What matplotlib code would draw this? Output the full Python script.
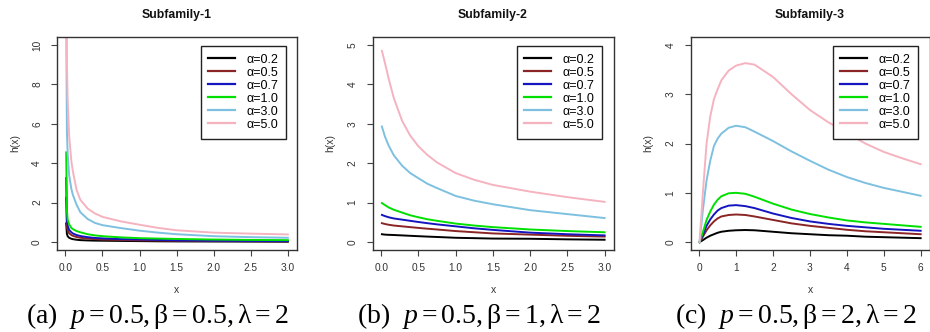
import matplotlib
matplotlib.use("Agg")
import matplotlib.pyplot as plt

plt.rcParams['font.family'] = ['Liberation Sans', 'DejaVu Sans']
plt.rcParams['mathtext.fontset'] = 'custom'
plt.rcParams['mathtext.rm'] = 'Liberation Serif'
plt.rcParams['mathtext.it'] = 'Liberation Serif:italic'
plt.rcParams['mathtext.bf'] = 'Liberation Serif:bold'

# ---------------- data ----------------
labels = ["α=0.2", "α=0.5", "α=0.7", "α=1.0", "α=3.0", "α=5.0"]
colors = ["#000000", "#8B2525", "#1515C0", "#00E000", "#7EC0E0", "#F5B3C0"]

titles = ["Subfamily-1", "Subfamily-2", "Subfamily-3"]
captions = [r"(a)  $p=0.5,\mathrm{β}=0.5,\mathrm{λ}=2$",
            r"(b)  $p=0.5,\mathrm{β}=1,\mathrm{λ}=2$",
            r"(c)  $p=0.5,\mathrm{β}=2,\mathrm{λ}=2$"]

x1 = [0.01, 0.02, 0.03, 0.05, 0.08, 0.1, 0.15, 0.2, 0.3, 0.4, 0.5, 0.75, 1.0, 1.25, 1.5, 2.0, 2.5, 3.0]
h1_a02 = [0.95, 0.42, 0.30, 0.22, 0.17, 0.15, 0.12, 0.10, 0.085, 0.075, 0.07, 0.06, 0.05, 0.04, 0.035, 0.03, 0.025, 0.02]
h1_a05 = [2.25, 0.80, 0.60, 0.45, 0.36, 0.32, 0.26, 0.22, 0.18, 0.15, 0.13, 0.11, 0.09, 0.08, 0.07, 0.06, 0.05, 0.04]
h1_a07 = [3.25, 1.10, 0.85, 0.62, 0.50, 0.44, 0.36, 0.31, 0.25, 0.21, 0.19, 0.15, 0.135, 0.11, 0.09, 0.07, 0.06, 0.05]
h1_a10 = [4.55, 1.60, 1.15, 0.90, 0.72, 0.66, 0.56, 0.50, 0.40, 0.34, 0.30, 0.24, 0.20, 0.18, 0.16, 0.13, 0.11, 0.10]
h1_a30 = [12.0, 5.6, 4.5, 3.4, 2.7, 2.4, 1.9, 1.52, 1.17, 0.97, 0.86, 0.71, 0.58, 0.48, 0.40, 0.30, 0.25, 0.22]
h1_a50 = [16.0, 9.0, 7.2, 5.4, 4.1, 3.6, 2.65, 2.15, 1.70, 1.45, 1.28, 1.05, 0.88, 0.72, 0.60, 0.48, 0.43, 0.39]

x2 = [0.01, 0.05, 0.1, 0.17, 0.28, 0.39, 0.5, 0.62, 0.75, 1.0, 1.25, 1.5, 2.0, 2.5, 3.0]
h2_a02 = [0.20, 0.19, 0.185, 0.18, 0.17, 0.16, 0.15, 0.14, 0.13, 0.11, 0.10, 0.09, 0.085, 0.07, 0.06]
h2_a05 = [0.48, 0.46, 0.44, 0.42, 0.40, 0.38, 0.36, 0.34, 0.32, 0.28, 0.25, 0.22, 0.19, 0.16, 0.14]
h2_a07 = [0.69, 0.66, 0.63, 0.60, 0.57, 0.54, 0.51, 0.48, 0.45, 0.40, 0.35, 0.31, 0.24, 0.20, 0.17]
h2_a10 = [0.99, 0.94, 0.88, 0.82, 0.75, 0.68, 0.63, 0.58, 0.54, 0.47, 0.42, 0.38, 0.32, 0.28, 0.25]
h2_a30 = [2.93, 2.68, 2.45, 2.20, 1.94, 1.75, 1.62, 1.48, 1.37, 1.17, 1.05, 0.96, 0.81, 0.71, 0.61]
h2_a50 = [4.85, 4.55, 4.15, 3.65, 3.08, 2.70, 2.43, 2.21, 2.02, 1.75, 1.58, 1.45, 1.28, 1.14, 1.02]

x3 = [0.01, 0.1, 0.2, 0.3, 0.4, 0.5, 0.6, 0.8, 1.0, 1.25, 1.5, 2.0, 2.5, 3.0, 3.5, 4.0, 4.5, 5.0, 5.5, 6.0]
h3_a02 = [0.0, 0.04, 0.09, 0.13, 0.16, 0.19, 0.21, 0.23, 0.24, 0.245, 0.24, 0.21, 0.18, 0.16, 0.14, 0.13, 0.11, 0.10, 0.09, 0.08]
h3_a05 = [0.0, 0.11, 0.24, 0.34, 0.42, 0.48, 0.52, 0.55, 0.56, 0.55, 0.52, 0.45, 0.38, 0.33, 0.29, 0.25, 0.22, 0.20, 0.18, 0.16]
h3_a07 = [0.0, 0.15, 0.33, 0.46, 0.56, 0.64, 0.69, 0.74, 0.75, 0.73, 0.69, 0.58, 0.49, 0.42, 0.37, 0.33, 0.30, 0.27, 0.25, 0.23]
h3_a10 = [0.0, 0.20, 0.45, 0.62, 0.76, 0.86, 0.93, 0.99, 1.00, 0.98, 0.92, 0.78, 0.66, 0.57, 0.50, 0.44, 0.40, 0.37, 0.34, 0.31]
h3_a30 = [0.0, 0.65, 1.25, 1.65, 1.95, 2.10, 2.20, 2.32, 2.36, 2.33, 2.24, 2.05, 1.84, 1.65, 1.47, 1.32, 1.20, 1.10, 1.02, 0.94]
h3_a50 = [0.0, 1.00, 2.00, 2.55, 2.90, 3.10, 3.28, 3.48, 3.58, 3.63, 3.60, 3.35, 3.00, 2.68, 2.43, 2.22, 2.00, 1.83, 1.70, 1.58]

panels = [
    (x1, [h1_a02, h1_a05, h1_a07, h1_a10, h1_a30, h1_a50], (0, 10), [0, 2, 4, 6, 8, 10],
     [0.0, 0.5, 1.0, 1.5, 2.0, 2.5, 3.0], ["0.0", "0.5", "1.0", "1.5", "2.0", "2.5", "3.0"]),
    (x2, [h2_a02, h2_a05, h2_a07, h2_a10, h2_a30, h2_a50], (0, 5), [0, 1, 2, 3, 4, 5],
     [0.0, 0.5, 1.0, 1.5, 2.0, 2.5, 3.0], ["0.0", "0.5", "1.0", "1.5", "2.0", "2.5", "3.0"]),
    (x3, [h3_a02, h3_a05, h3_a07, h3_a10, h3_a30, h3_a50], (0, 4), [0, 1, 2, 3, 4],
     [0, 1, 2, 3, 4, 5, 6], ["0", "1", "2", "3", "4", "5", "6"]),
]

# ---------------- layout (pixels) ----------------
W, H = 930, 332
fig = plt.figure(figsize=(W / 100, H / 100), dpi=100)

boxes = [(57.3, 296.7), (373.0, 613.5), (690.7, 929.5)]
top_px, bot_px = 37, 250
title_x = [177, 493, 810]
ylab_x = [15, 330, 648]
cap_x = [157, 479, 796]
leg_right = [286, 602, 918]

for i, (xs, ys, ylim, yt, xt, xtl) in enumerate(panels):
    l, r = boxes[i]
    ax = fig.add_axes([l / W, 1 - bot_px / H, (r - l) / W, (bot_px - top_px) / H])
    for y, c, lab in zip(ys, colors, labels):
        ax.plot(xs, y, color=c, lw=1.4, label=lab, solid_joinstyle='round')
    xmin, xmax = min(xs), max(xs)
    px_ = 0.04 * (xmax - xmin)
    ax.set_xlim(xmin - px_, xmax + px_)
    py_ = 0.04 * (ylim[1] - ylim[0])
    ax.set_ylim(ylim[0] - py_, ylim[1] + py_)
    ax.set_yticks(yt)
    ax.set_yticklabels([str(v) for v in yt], rotation=90, va='center')
    ax.set_xticks(xt)
    ax.set_xticklabels(xtl)
    ax.tick_params(axis='both', direction='out', length=4.2, width=0.8, colors='#444444',
                   labelsize=7.3, labelcolor='#333333')
    ax.tick_params(axis='x', pad=5.0)
    ax.tick_params(axis='y', pad=6.8)
    for s in ax.spines.values():
        s.set_color('#333333')
        s.set_linewidth(1.0)
    lx = (leg_right[i] - l) / (r - l)
    ly = 1 - (46 - top_px) / (bot_px - top_px)
    leg = ax.legend(loc='upper right', bbox_to_anchor=(lx, ly), borderaxespad=0,
                    fontsize=9, handlelength=2.1, handletextpad=0.95, labelspacing=0.08,
                    borderpad=0.62, fancybox=False, framealpha=1, edgecolor='#222222')
    leg.get_frame().set_linewidth(1.0)
    for ln in leg.get_lines():
        ln.set_linewidth(1.6)

    fig.text(title_x[i] / W, 1 - 15 / H, titles[i], ha='center', va='center',
             fontsize=8.8, fontweight='bold', color='#111111')
    fig.text(ylab_x[i] / W, 1 - 143 / H, "h(x)", ha='center', va='center',
             rotation=90, fontsize=7.5, color='#333333')
    fig.text(((l + r) / 2) / W, 1 - 290 / H, "x", ha='center', va='center',
             fontsize=7.5, color='#333333')
    fig.text(cap_x[i] / W, 1 - 316 / H, captions[i], ha='center', va='center',
             fontsize=20, family='Liberation Serif', color='black')

fig.savefig("out.png", dpi=100)
